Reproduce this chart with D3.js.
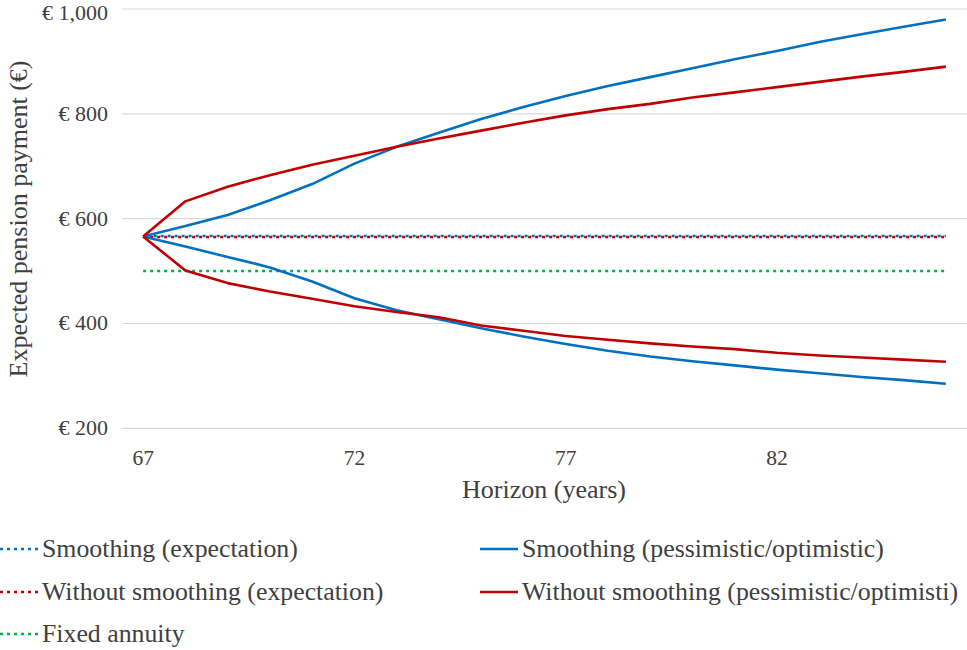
<!DOCTYPE html>
<html>
<head>
<meta charset="utf-8">
<script src="https://cdn.jsdelivr.net/npm/d3@7"></script>
<style>
  body { margin: 0; background: #fff; }
  svg { display: block; }
  text { font-family: "Liberation Serif", "DejaVu Serif", serif; fill: #404040; }
</style>
</head>
<body>
<svg id="chart" width="967" height="650"></svg>
<script>
const years = [67,68,69,70,71,72,73,74,75,76,77,78,79,80,81,82,83,84,85,86];
const xTickLabels = [67, 72, 77, 82];
const yTicks = [200, 400, 600, 800, 1000];

const smoothingExpectation = [567,567,567,567,567,567,567,567,567,567,567,567,567,567,567,567,567,567,567,567];
const withoutExpectation   = [565,565,565,565,565,565,565,565,565,565,565,565,565,565,565,565,565,565,565,565];
const fixedAnnuity         = [500,500,500,500,500,500,500,500,500,500,500,500,500,500,500,500,500,500,500,500];

const smoothingOptimistic  = [566,586,607,635,666,705,737,764,790,813,834,853,870,887,904,920,937,952,966,980];
const smoothingPessimistic = [566,547,527,507,480,448,425,408,391,375,361,348,337,328,320,312,305,298,292,285];
const withoutOptimistic    = [566,633,661,683,703,720,737,753,768,783,797,809,819,831,841,851,861,871,880,890];
const withoutPessimistic   = [566,501,477,461,447,433,422,412,396,386,376,369,362,356,351,344,339,335,331,327];

const legendLabels = [
  "Smoothing (expectation)",
  "Smoothing (pessimistic/optimistic)",
  "Without smoothing (expectation)",
  "Without smoothing (pessimistic/optimisti)",
  "Fixed annuity"
];

const BLUE = "#0070C0", RED = "#C00000", GREEN = "#00B050";

const svg = d3.select("#chart");
const x = d3.scalePoint().domain(years).range([122, 967]).padding(0.5);
const y = d3.scaleLinear().domain([200, 1000]).range([428.3, 9]);

// gridlines
svg.append("g").selectAll("line").data(yTicks).join("line")
  .attr("x1", 122).attr("x2", 967)
  .attr("y1", d => y(d)).attr("y2", d => y(d))
  .attr("stroke", "#d9d9d9").attr("stroke-width", 1.2);

// y labels
svg.append("g").selectAll("text").data(yTicks).join("text")
  .attr("x", 108).attr("y", d => Math.max(y(d) + 7, 19.5))
  .attr("text-anchor", "end")
  .attr("font-size", 22)
  .text(d => "€ " + d3.format(",")(d));

// x labels
svg.append("g").selectAll("text").data(xTickLabels).join("text")
  .attr("x", d => x(d)).attr("y", 465)
  .attr("text-anchor", "middle")
  .attr("font-size", 21.5)
  .text(d => d);

// axis titles
svg.append("text")
  .attr("x", 544).attr("y", 498)
  .attr("text-anchor", "middle")
  .attr("font-size", 26)
  .text("Horizon (years)");

svg.append("text")
  .attr("transform", "translate(27,219) rotate(-90)")
  .attr("text-anchor", "middle")
  .attr("font-size", 26)
  .text("Expected pension payment (€)");

const line = d3.line().x((d, i) => x(years[i])).y(d => y(d));

const dotted = "3,4";
const series = [
  {data: fixedAnnuity, color: GREEN, dash: dotted, offset: 0},
  {data: withoutExpectation, color: RED, dash: dotted, offset: 0},
  {data: smoothingExpectation, color: BLUE, dash: dotted, offset: 3.5},
  {data: smoothingOptimistic, color: BLUE, dash: null, offset: 0},
  {data: smoothingPessimistic, color: BLUE, dash: null, offset: 0},
  {data: withoutOptimistic, color: RED, dash: null, offset: 0},
  {data: withoutPessimistic, color: RED, dash: null, offset: 0}
];

svg.append("g").selectAll("path").data(series).join("path")
  .attr("d", d => line(d.data))
  .attr("fill", "none")
  .attr("stroke", d => d.color)
  .attr("stroke-width", 2.6)
  .attr("stroke-linejoin", "round")
  .attr("stroke-dasharray", d => d.dash)
  .attr("stroke-dashoffset", d => d.offset);

// legend
const legendItems = [
  {label: legendLabels[0], color: BLUE, dash: dotted, x: 0, y: 549},
  {label: legendLabels[1], color: BLUE, dash: null, x: 480, y: 549},
  {label: legendLabels[2], color: RED, dash: dotted, x: 0, y: 592},
  {label: legendLabels[3], color: RED, dash: null, x: 480, y: 592},
  {label: legendLabels[4], color: GREEN, dash: dotted, x: 0, y: 634}
];
const lg = svg.append("g").selectAll("g").data(legendItems).join("g")
  .attr("transform", d => `translate(${d.x},${d.y})`);
lg.append("line")
  .attr("x1", 0).attr("x2", 38).attr("y1", 0).attr("y2", 0)
  .attr("stroke", d => d.color).attr("stroke-width", 2.6)
  .attr("stroke-dasharray", d => d.dash);
lg.append("text")
  .attr("x", 42).attr("y", 8)
  .attr("font-size", 25.8)
  .text(d => d.label);
</script>
</body>
</html>
